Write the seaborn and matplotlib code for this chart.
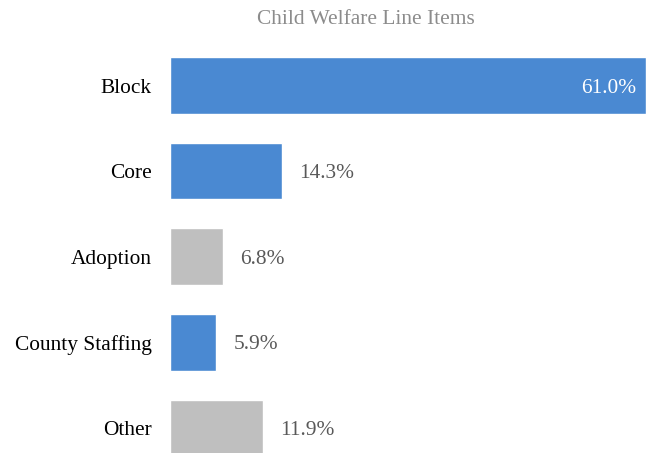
import matplotlib
matplotlib.use("Agg")
import matplotlib.pyplot as plt
import seaborn as sns
import pandas as pd

categories = ["Block", "Core", "Adoption", "County Staffing", "Other"]
shares = [61.0, 14.3, 6.8, 5.9, 11.9]
bar_colors = ["#4A89D2", "#4A89D2", "#BFBFBF", "#4A89D2", "#BFBFBF"]

df = pd.DataFrame({"item": categories, "share": shares})

sns.set_theme(style="white")
plt.rcParams["font.family"] = ["Liberation Serif", "DejaVu Serif"]
fs = 15.4

fig = plt.figure(figsize=(6.48, 4.53), dpi=100)
ax = fig.add_axes([170 / 648, 0, 476 / 648, (453 - 42.7) / 453])

sns.barplot(data=df, x="share", y="item", hue="item", palette=bar_colors,
            legend=False, width=0.66, saturation=1, ax=ax)

ax.set_xlim(0, 61.0)
ax.set_ylim(4.293, -0.5)
ax.set_xlabel("")
ax.set_ylabel("")
ax.set_xticks([])
ax.tick_params(axis="y", length=0, pad=13, labelsize=fs, labelcolor="black")
for s in ax.spines.values():
    s.set_visible(False)

for i, v in enumerate(shares):
    if v > 40:
        ax.text(v - 1.2, i, f"{v:.1f}%", ha="right", va="center_baseline",
                color="white", fontsize=fs)
    else:
        ax.text(v + 2.2, i, f"{v:.1f}%", ha="left", va="center_baseline",
                color="#595959", fontsize=fs)

fig.text(366 / 648, 1 - 20 / 453, "Child Welfare Line Items", ha="center",
         va="center", color="#8C8C8C", fontsize=fs)

fig.savefig("out.png", dpi=100)
